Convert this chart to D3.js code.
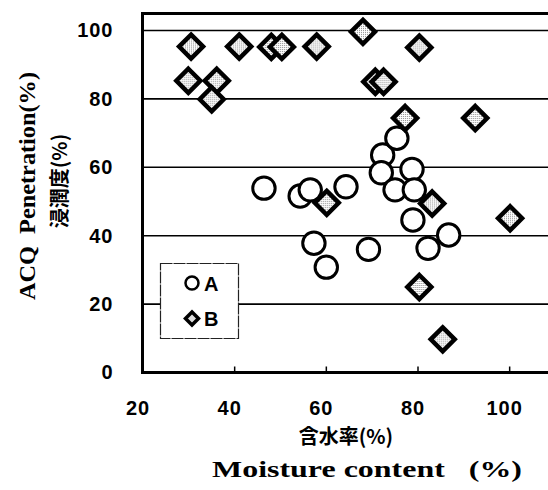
<!DOCTYPE html>
<html>
<head>
<meta charset="utf-8">
<script src="https://cdn.jsdelivr.net/npm/d3@7"></script>
<style>
  body { margin: 0; background: #fff; }
  svg { display: block; }
</style>
</head>
<body>
<svg id="chart" width="548" height="490"></svg>
<script>
// data
const aMoisture = [46.5, 54.4, 56.6, 64.4, 72.4, 72.1, 75.5, 78.8, 75.1, 79.3, 79.0, 57.4, 60.1, 69.3, 82.3, 86.8]
const aPenetration = [53.9, 51.6, 53.4, 54.3, 63.6, 58.4, 68.5, 59.4, 53.4, 53.4, 44.6, 37.8, 30.8, 36.0, 36.3, 40.2]
const bMoisture = [30.6, 41.1, 48.1, 50.4, 58.0, 68.1, 80.4, 30.0, 36.2, 35.1, 70.8, 72.6, 77.3, 92.6, 60.2, 83.2, 100.2, 80.4, 85.5]
const bPenetration = [95.3, 95.3, 95.2, 95.2, 95.3, 99.6, 95.0, 85.3, 85.3, 79.9, 85.0, 85.0, 74.4, 74.4, 49.6, 49.4, 45.1, 25.0, 9.7]
const xTicks = [20, 40, 60, 80, 100]
const yTicks = [0, 20, 40, 60, 80, 100]
const legendNames = ['A', 'B']

const svg = d3.select('#chart')

//pattern for the speckled diamonds
const pat = svg.append('defs').append('pattern')
    .attr('id', 'speck')
    .attr('width', 2).attr('height', 2)
    .attr('patternUnits', 'userSpaceOnUse')
pat.append('rect').attr('width', 2).attr('height', 2).attr('fill', '#fff')
pat.append('rect').attr('width', 1).attr('height', 1).attr('fill', '#888')

//scales
const x = d3.scaleLinear().domain([20, 110]).range([142.5, 555])
const y = d3.scaleLinear().domain([0, 105]).range([372.5, 13.4])

//grid lines
svg.append('g')
    .selectAll('line')
    .data(yTicks.filter(d => d > 0))
    .enter()
    .append('line')
    .attr('x1', x(20)).attr('x2', x(110))
    .attr('y1', d => y(d)).attr('y2', d => y(d))
    .attr('stroke', '#000')
    .attr('stroke-width', 1.6)

//frame
svg.append('path')
    .attr('d', `M${x(110)},${y(105)} H${x(20)} V${y(0)} H${x(110)}`)
    .attr('fill', 'none')
    .attr('stroke', '#000')
    .attr('stroke-width', 3)

//axes
const xAxis = d3.axisBottom(x).tickValues(xTicks).tickSizeInner(-6).tickSizeOuter(0).tickPadding(28)
const gx = svg.append('g')
    .attr('transform', `translate(0,${y(0)})`)
    .call(xAxis)
gx.select('.domain').remove()
gx.selectAll('line').attr('stroke-width', 1.5)
gx.selectAll('text')
    .attr('dx', -5)
    .style('font-family', 'Liberation Sans, Arial, sans-serif')
    .style('font-weight', 'bold')
    .style('font-size', '20px')
    .style('letter-spacing', '1px')
    .attr('fill', '#000')

const yAxis = d3.axisLeft(y).tickValues(yTicks).tickSize(0).tickPadding(29)
const gy = svg.append('g')
    .attr('transform', `translate(${x(20)},0)`)
    .call(yAxis)
gy.select('.domain').remove()
gy.selectAll('text')
    .style('font-family', 'Liberation Sans, Arial, sans-serif')
    .style('font-weight', 'bold')
    .style('font-size', '20px')
    .style('letter-spacing', '1px')
    .attr('fill', '#000')

//markers
const diamond = s => `M0,${-s} L${s},0 L0,${s} L${-s},0 Z`

svg.append('g')
    .selectAll('circle')
    .data(aMoisture.map((m, i) => [m, aPenetration[i]]))
    .enter()
    .append('circle')
    .attr('cx', d => x(d[0]))
    .attr('cy', d => y(d[1]))
    .attr('r', 11.2)
    .attr('fill', '#fff')
    .attr('stroke', '#000')
    .attr('stroke-width', 3)

svg.append('g')
    .selectAll('path')
    .data(bMoisture.map((m, i) => [m, bPenetration[i]]))
    .enter()
    .append('path')
    .attr('transform', d => `translate(${x(d[0])},${y(d[1])})`)
    .attr('d', diamond(12))
    .attr('fill', 'url(#speck)')
    .attr('stroke', '#000')
    .attr('stroke-width', 4.5)
    .attr('stroke-linejoin', 'miter')

//legend
const lg = svg.append('g')
lg.append('rect')
    .attr('x', 160.5).attr('y', 263.5)
    .attr('width', 78).attr('height', 75)
    .attr('fill', '#fff')
    .attr('stroke', '#222')
    .attr('stroke-width', 1.2)
    .attr('stroke-dasharray', '12,1')
lg.append('circle')
    .attr('cx', 192).attr('cy', 283)
    .attr('r', 6.5)
    .attr('fill', '#fff')
    .attr('stroke', '#000')
    .attr('stroke-width', 2.5)
lg.append('path')
    .attr('transform', 'translate(192,318.5)')
    .attr('d', diamond(6.5))
    .attr('fill', '#ddd')
    .attr('stroke', '#000')
    .attr('stroke-width', 3.5)
lg.selectAll('text')
    .data(legendNames)
    .enter()
    .append('text')
    .attr('x', 204)
    .attr('y', (_, i) => 290.5 + i * 35.5)
    .style('font-family', 'Liberation Sans, Arial, sans-serif')
    .style('font-weight', 'bold')
    .style('font-size', '20px')
    .text(d => d)

//axis titles
svg.append('text')
    .attr('x', 346)
    .attr('y', 444)
    .attr('text-anchor', 'middle')
    .style('font-family', 'Noto Sans CJK JP, sans-serif')
    .style('font-weight', 'bold')
    .style('font-size', '20px')
    .text('含水率(%)')

svg.append('text')
    .attr('x', 212)
    .attr('y', 477)
    .attr('textLength', 310)
    .attr('lengthAdjust', 'spacingAndGlyphs')
    .style('font-family', 'Liberation Serif, Times New Roman, serif')
    .style('font-weight', 'bold')
    .style('font-size', '23px')
    .style('white-space', 'pre')
    .text('Moisture content   (%)')

svg.append('text')
    .attr('transform', 'translate(35,186) rotate(-90)')
    .attr('text-anchor', 'middle')
    .attr('textLength', 228)
    .attr('lengthAdjust', 'spacingAndGlyphs')
    .style('font-family', 'Liberation Serif, Times New Roman, serif')
    .style('font-weight', 'bold')
    .style('font-size', '23px')
    .style('white-space', 'pre')
    .text('ACQ  Penetration(%)')

svg.append('text')
    .attr('transform', 'translate(67,181) rotate(-90)')
    .attr('text-anchor', 'middle')
    .style('font-family', 'Noto Sans CJK JP, sans-serif')
    .style('font-weight', 'bold')
    .style('font-size', '20px')
    .text('浸潤度(%)')
</script>
</body>
</html>
